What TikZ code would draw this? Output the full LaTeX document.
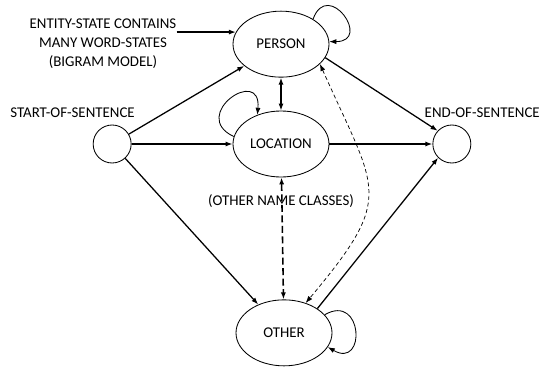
\documentclass[tikz,border=0pt]{standalone}
\usepackage{fontspec}
\setmainfont{Carlito}
\usetikzlibrary{shapes.geometric, arrows.meta, positioning}

\begin{document}
\begin{tikzpicture}[
  node distance=0.825cm and 2.5cm,
  every node/.style={font=\fontsize{10.6}{13.5}\selectfont},
  state/.style={ellipse, draw, line width=0.6pt, minimum width=2.4cm, minimum height=1.65cm, inner sep=0pt},
  term/.style={circle, draw, line width=0.6pt, minimum size=0.95cm, inner sep=0pt},
  lbl/.style={inner sep=0pt, align=center},
  trans/.style={->, line width=0.9pt},
  selfloop/.style={->, line width=0.6pt},
  >={Latex[length=5pt, width=3.6pt]}
]
\useasboundingbox (-7.025,-5.575) rectangle (6.525,3.6);

\node[state] (loc) {LOCATION};
\node[state, above=0.825cm of loc] (person) {PERSON};
\node[state, below=3.05cm of loc, xshift=0.075cm] (other) {OTHER};
\node[term, left=2.525cm of loc] (sos) {};
\node[term, right=2.575cm of loc] (eos) {};

\node[lbl, above=0.175cm of sos, xshift=-0.99cm] (soslbl) {START-OF-SENTENCE};
\node[lbl, above=0.175cm of eos, xshift=0.76cm] (eoslbl) {END-OF-SENTENCE};
\node[lbl, left=1.4cm of person] (note) {ENTITY-STATE CONTAINS\\MANY WORD-STATES\\(BIGRAM MODEL)};
\node[lbl, below=0.42cm of loc] (classes) {(OTHER NAME CLASSES)};

\draw[trans] (note.east |- person.165) -- (person.165);
\draw[trans] (sos) -- (person);
\draw[trans] (sos) -- (loc);
\draw[trans] (sos) -- (other);
\draw[trans] (person.-17) -- (eos.137);
\draw[trans] (loc) -- (eos);
\draw[trans] (other.36) -- (eos.225);
\draw[trans, <->] (person) -- (loc);
\draw[trans, <->, line width=1.1pt, dash pattern=on 5pt off 2.5pt] (loc) -- (other);
\draw[<->, line width=0.5pt, dash pattern=on 2.8pt off 2pt] (person.-27) to[out=-66, in=50, looseness=1.5] (other.54);

\draw[selfloop] (person.38) to[out=70, in=0, looseness=4] (person.3);
\draw[selfloop] (loc.171) to[out=155, in=85, looseness=4] (loc.129);
\draw[selfloop] (other.24) to[out=30, in=-30, looseness=3.5] (other.-18);

\end{tikzpicture}
\end{document}
